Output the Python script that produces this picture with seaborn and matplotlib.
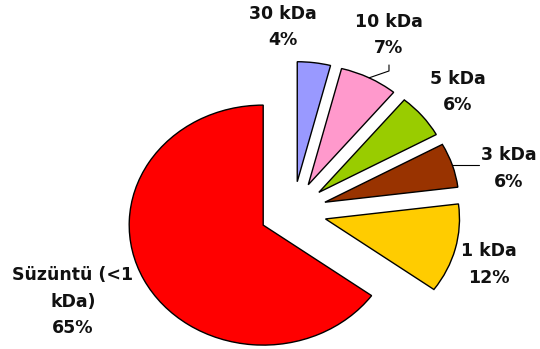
import numpy as np
import matplotlib
matplotlib.use("Agg")
import matplotlib.pyplot as plt
import seaborn as sns

# data
categories = ["30 kDa", "10 kDa", "5 kDa", "3 kDa", "1 kDa", "Süzüntü (<1\nkDa)"]
shares = [4, 7, 6, 6, 12, 65]
colors = ["#9999FF", "#FF99CC", "#99CC00", "#993300", "#FFCC00", "#FF0000"]

sns.set_theme(style="white")
plt.rcParams["font.family"] = ["DejaVu Sans"]

fig = plt.figure(figsize=(5.4, 3.49), dpi=100)
ax = fig.add_axes([0, 0, 1, 1])

wedges, _ = ax.pie(shares, colors=colors, startangle=90, counterclock=False,
                   explode=[0.25] * len(shares), radius=1.0,
                   wedgeprops=dict(edgecolor="black", linewidth=1.0))

# Excel draws the pie a bit wider than tall
ax.set_aspect("auto")
ax.set_xlim(-2.187, 1.843)
ax.set_ylim(-1.146, 1.7625)
ax.axis("off")

# label positions (data coords), placed like Excel's best-fit labels
label_pos = [(-0.075, 1.536), (0.716, 1.471), (1.231, 0.996),
             (1.612, 0.358), (1.463, -0.442), (-1.642, -0.752)]

for name, val, (lx, ly) in zip(categories, shares, label_pos):
    ax.text(lx, ly, f"{name}\n{val}%", ha="center", va="center",
            fontsize=12.5, fontweight="bold", color="#111111", linespacing=1.6)

# leader lines for 10 kDa and 3 kDa
def arc_point(w):
    mid = np.deg2rad((w.theta1 + w.theta2) / 2)
    cx, cy = w.center
    return cx + w.r * np.cos(mid), cy + w.r * np.sin(mid)

px, py = arc_point(wedges[1])
lx, ly = label_pos[1]
ax.plot([px, lx, lx], [py, ly - 0.30, ly - 0.25], color="black", lw=0.8)

px, py = arc_point(wedges[3])
lx, ly = label_pos[3]
ax.plot([px, lx - 0.224], [py, py], color="black", lw=0.8)

fig.savefig("out.png", dpi=100)
